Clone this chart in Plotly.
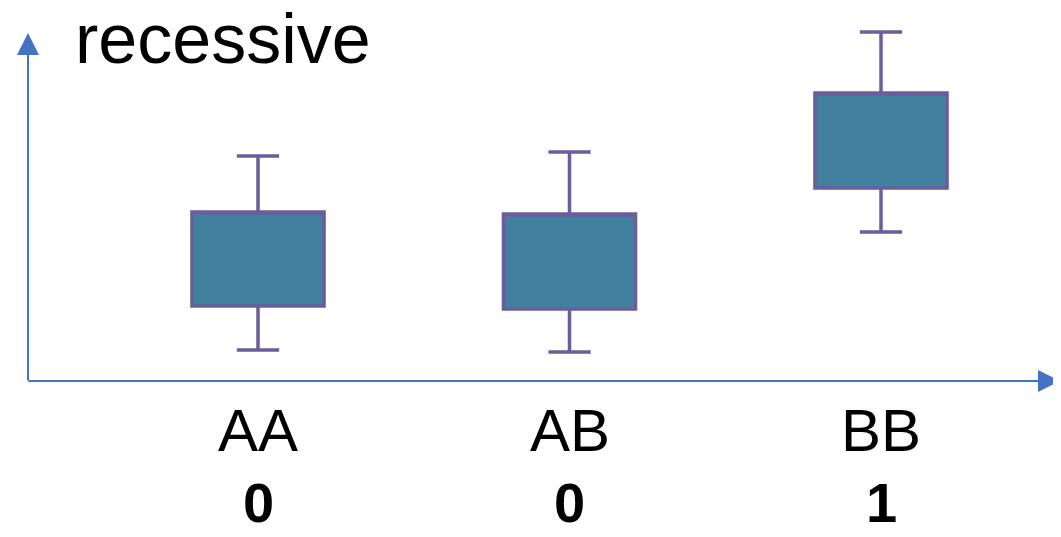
import plotly.graph_objects as go

categories = ["AA", "AB", "BB"]
scores = ["0", "0", "1"]
lower = [1.03, 0.97, 4.97]
q1 = [2.5, 2.4, 6.43]
q3 = [5.63, 5.57, 9.6]
upper = [7.5, 7.63, 11.63]
title_text = "recessive"

# page has an 8px body margin; figure is sized to fit inside the window
OFF = 8
W, H = 1061 - OFF, 537 - OFF
FONT = "Arial, Liberation Sans, sans-serif"
AXIS_COLOR = "#4472C4"
X0 = 258 - OFF      # pixel of first category centre
DX = 311.5          # pixels per category
Y0 = 381 - OFF      # pixel of the x axis line
DY = 30             # pixels per y unit

fig = go.Figure()
fig.add_trace(go.Box(
    x=categories,
    lowerfence=lower,
    q1=q1,
    median=q3,
    q3=q3,
    upperfence=upper,
    fillcolor="#41809F",
    line=dict(color="#6A5D9A", width=3.5),
    whiskerwidth=0.32,
    width=0.424,
    boxpoints=False,
    hoverinfo="skip",
    showlegend=False,
))

annotations = []
for c, s in zip(categories, scores):
    annotations.append(dict(x=c, y=-1.65, xref="x", yref="y", text=c, showarrow=False,
                            font=dict(family=FONT, size=60, color="black"),
                            xanchor="center", yanchor="middle"))
    annotations.append(dict(x=c, y=-4.05, xref="x", yref="y", text="<b>" + s + "</b>", showarrow=False,
                            font=dict(family=FONT, size=56, color="black"),
                            xanchor="center", yanchor="middle"))

annotations.append(dict(x=(74 - OFF) / W, y=1 - (39 - OFF) / H, xref="paper", yref="paper", text=title_text,
                        showarrow=False, font=dict(family=FONT, size=70, color="black"),
                        xanchor="left", yanchor="middle", borderpad=0))

# axes with arrow heads
annotations.append(dict(x=(28 - OFF) / W, y=1 - (33 - OFF) / H, xref="paper", yref="paper", text="",
                        showarrow=True, ax=0, ay=349, axref="pixel", ayref="pixel",
                        arrowhead=2, arrowsize=2.2, arrowwidth=2, arrowcolor=AXIS_COLOR,
                        standoff=0, startstandoff=0))
annotations.append(dict(x=(1060 - OFF) / W, y=1 - (381 - OFF) / H, xref="paper", yref="paper", text="",
                        showarrow=True, ax=-1033, ay=0, axref="pixel", ayref="pixel",
                        arrowhead=2, arrowsize=2.2, arrowwidth=2, arrowcolor=AXIS_COLOR,
                        standoff=0, startstandoff=0))

fig.update_layout(
    width=W, height=H,
    margin=dict(l=0, r=0, t=0, b=0),
    paper_bgcolor="white", plot_bgcolor="white",
    xaxis=dict(type="category", categoryorder="array", categoryarray=categories,
               range=[-X0 / DX, (W - X0) / DX], showticklabels=False,
               showgrid=False, zeroline=False, showline=False, ticks=""),
    yaxis=dict(range=[-(H - Y0) / DY, Y0 / DY], showticklabels=False,
               showgrid=False, zeroline=False, showline=False, ticks=""),
    annotations=annotations,
)

fig.write_html("out.html")
